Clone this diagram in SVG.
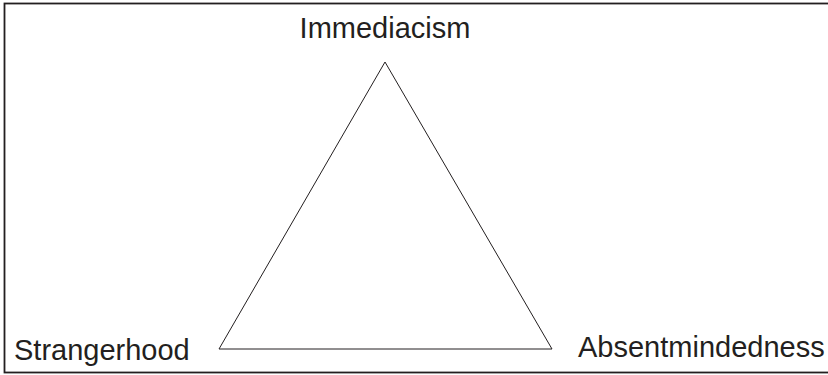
<svg xmlns="http://www.w3.org/2000/svg" width="828" height="375" viewBox="0 0 828 375">
<style>
.lbl{font-family:"Liberation Sans",Arial,sans-serif;font-size:29px;fill:#231f20}
.frame{fill:#fff;stroke:#231f20;stroke-width:1.8}
.edge{fill:none;stroke:#231f20;stroke-width:1}
</style>
<rect class="frame" x="4.5" y="3.5" width="830" height="369"/>
<g id="connectors">
<path class="edge" d="M385,62 L219,349 L552,349 Z"/>
</g>
<g id="immediacism"><text class="lbl" x="385" y="38" text-anchor="middle">Immediacism</text></g>
<g id="strangerhood"><text class="lbl" x="14" y="360">Strangerhood</text></g>
<g id="absentmindedness"><text class="lbl" x="578" y="357">Absentmindedness</text></g>
</svg>
